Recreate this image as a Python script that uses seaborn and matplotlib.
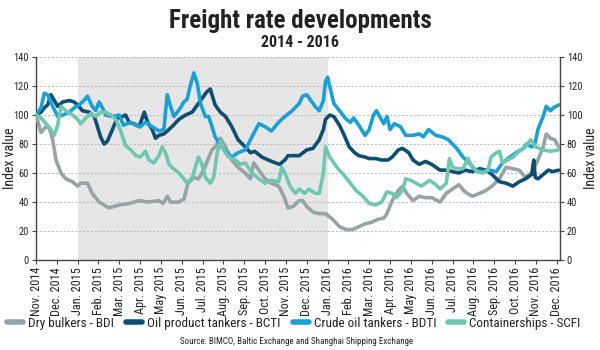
import numpy as np
import pandas as pd
import matplotlib
matplotlib.use("Agg")
import matplotlib.pyplot as plt
import seaborn as sns
from matplotlib import font_manager

# ---------------- data ----------------
month_labels = ["Nov. 2014", "Dec. 2014", "Jan. 2015", "Feb. 2015", "Mar. 2015", "Apr. 2015",
                "May 2015", "Jun. 2015", "Jul. 2015", "Aug. 2015", "Sep. 2015", "Oct. 2015",
                "Nov. 2015", "Dec. 2015", "Jan. 2016", "Feb. 2016", "Mar. 2016", "Apr. 2016",
                "May 2016", "Jun. 2016", "Jul. 2016", "Aug. 2016", "Sep. 2016", "Oct. 2016",
                "Nov. 2016", "Dec. 2016"]

series_names = ["Dry bulkers - BDI", "Oil product tankers - BCTI",
                "Crude oil tankers - BDTI", "Containerships - SCFI"]

bdi_t = [0, 0.24, 0.48, 0.64, 0.8, 0.96, 1.2, 1.44, 1.75, 2.0, 2.15, 2.47, 2.7,
         3.03, 3.5, 4.0, 4.47, 4.95, 5.4, 5.9, 6.1, 6.3, 6.46, 6.86, 7.1, 7.3, 7.6, 7.8,
         8.05, 8.3, 8.45, 8.6, 8.85, 9.1, 9.4, 9.7, 10.05, 10.3, 10.45, 10.7, 11.0, 11.3, 11.65, 11.9,
         12.1, 12.35, 12.64, 12.8, 13.0, 13.3, 13.6, 13.9, 14.25, 14.57, 14.9, 15.2, 15.5, 15.8,
         16.1, 16.4, 16.7, 16.85, 17.1, 17.4, 17.6, 17.8, 18.1, 18.4, 18.7, 19.0, 19.4, 19.7,
         20.0, 20.3, 20.6, 20.95, 21.3, 21.6, 21.9, 22.25, 22.57, 22.9, 23.2, 23.5, 23.8,
         24.1, 24.35, 24.5, 24.7, 24.9, 25.1]
bdi_v = [100, 88, 92, 91, 83, 69, 60, 56, 54, 51, 53, 53, 46,
         40, 36, 38, 39, 41, 40, 41, 39, 44, 40, 40, 42, 53, 57, 56,
         62, 71, 76, 78, 84, 78, 69, 64, 60, 56, 67, 62, 56, 53, 51, 44,
         36, 37, 41, 41, 37, 33, 32, 32, 28, 23, 21, 21, 23, 25,
         26, 28, 29, 32, 41, 48, 51, 46, 41, 44, 43, 43, 40, 46,
         49, 52, 47, 44, 46, 48, 51, 56, 64, 63, 62, 57, 60,
         69, 78, 87, 84, 83, 78]

bcti_t = [0, 0.24, 0.4, 0.56, 0.72, 0.88, 1.04, 1.28, 1.6, 1.83, 2.0, 2.23, 2.55, 2.8, 2.95,
          3.1, 3.27, 3.43, 3.67, 3.9, 4.15, 4.3, 4.47, 4.7, 4.95, 5.2, 5.36, 5.58, 5.74, 5.9,
          6.14, 6.38, 6.6, 6.86, 7.18, 7.5, 7.8, 8.05, 8.2, 8.37, 8.45, 8.6, 8.85,
          9.1, 9.4, 9.7, 10.05, 10.3, 10.5, 10.85, 11.15, 11.5, 11.7, 11.95,
          12.1, 12.35, 12.64, 13.0, 13.3, 13.6, 13.8, 13.9, 14.1, 14.3, 14.57, 14.8, 15.04,
          15.3, 15.5, 15.8, 16.0, 16.3, 16.6, 16.9, 17.1, 17.4, 17.6, 17.9,
          18.1, 18.4, 18.7, 19.0, 19.4, 19.7, 20.0, 20.3, 20.6, 20.95, 21.3, 21.6, 21.9,
          22.25, 22.57, 22.9, 23.2, 23.5, 23.8, 23.9, 23.97, 24.1, 24.35, 24.6, 24.8, 25.1]
bcti_v = [100, 102, 105, 107, 114, 110, 106, 109, 110, 109, 107, 103, 102, 99, 92,
          85, 80, 82, 90, 98, 99, 100, 95, 94, 92, 102, 95, 90, 84, 86,
          87, 90, 93, 97, 100, 102, 108, 113, 116, 118, 114, 107, 102,
          99, 92, 83, 78, 74, 75, 71, 69, 67, 66, 69,
          72, 72, 72, 76, 77, 83, 90, 97, 100, 99, 93, 86, 78,
          74, 72, 71, 70, 70, 69, 69, 71, 76, 77, 74,
          69, 66, 68, 66, 62, 62, 61, 60, 62, 61, 63, 62, 59,
          54, 53, 51, 54, 56, 59, 69, 57, 56, 59, 62, 61, 62]

bdti_t = [0, 0.24, 0.4, 0.56, 0.8, 1.04, 1.28, 1.6, 1.83, 2.07, 2.3, 2.47, 2.7, 2.87,
          3.03, 3.19, 3.35, 3.67, 4.0, 4.2, 4.55, 4.8, 5.0, 5.26, 5.58, 5.9, 6.14, 6.3, 6.46,
          6.62, 6.78, 6.94, 7.1, 7.26, 7.4, 7.58, 7.74, 7.9, 8.13, 8.29, 8.45, 8.6, 8.85,
          9.1, 9.4, 9.7, 10.05, 10.37, 10.7, 11.0, 11.3, 11.65, 11.95, 12.3, 12.64, 12.8,
          13.0, 13.2, 13.4, 13.6, 13.8, 13.9, 14.0, 14.1, 14.3, 14.57, 14.9, 15.1, 15.25,
          15.5, 15.8, 16.0, 16.2, 16.35, 16.5, 16.7, 16.85, 17.0, 17.2, 17.5, 17.75,
          18.1, 18.4, 18.6, 18.85, 19.2, 19.5, 19.8, 20.2, 20.5, 20.8, 21.1, 21.45, 21.8,
          22.1, 22.4, 22.75, 23.05, 23.4, 23.55, 23.8, 23.95, 24.1, 24.35, 24.5, 24.7, 24.85, 25.1]
bdti_v = [100, 105, 115, 114, 106, 99, 100, 102, 105, 107, 110, 113, 106, 103,
          109, 105, 100, 99, 100, 93, 95, 93, 92, 95, 92, 89, 90, 114, 106,
          99, 102, 105, 109, 111, 120, 129, 122, 108, 99, 99, 92, 85, 79,
          75, 71, 74, 76, 85, 94, 92, 89, 95, 99, 103, 108, 113,
          114, 110, 106, 103, 110, 123, 126, 120, 108, 103, 97, 95, 98,
          93, 86, 90, 100, 103, 99, 94, 99, 90, 94, 92, 86,
          86, 87, 85, 90, 86, 85, 83, 77, 71, 67, 62, 61, 62,
          61, 67, 71, 74, 77, 80, 78, 80, 90, 99, 106, 103, 105, 107]

scfi_t = [0, 0.24, 0.48, 0.72, 0.88, 1.04, 1.2, 1.44, 1.68, 2.0, 2.15, 2.4, 2.63, 2.87,
          3.1, 3.35, 3.6, 3.83, 4.07, 4.3, 4.55, 4.8, 5.0, 5.26, 5.42, 5.66, 5.9, 6.06, 6.22,
          6.38, 6.6, 6.86, 7.1, 7.26, 7.5, 7.65, 7.8, 7.95, 8.13, 8.37, 8.53, 8.7, 8.85, 9.0,
          9.25, 9.57, 9.8, 10.05, 10.37, 10.7, 11.0, 11.3, 11.65, 11.8, 11.95, 12.2, 12.45,
          12.64, 12.9, 13.1, 13.4, 13.6, 13.8, 13.9, 14.1, 14.3, 14.5, 14.7, 15.04, 15.36,
          15.7, 16.0, 16.3, 16.6, 16.85, 17.1, 17.3, 17.6, 17.75, 18.0, 18.25, 18.5, 18.7,
          18.9, 19.2, 19.4, 19.7, 19.85, 20.0, 20.25, 20.5, 20.74, 20.95, 21.2, 21.45, 21.7,
          21.85, 22.1, 22.25, 22.4, 22.65, 22.9, 23.2, 23.5, 23.75, 24.0, 24.35, 24.7, 25.1]
scfi_v = [100, 98, 94, 90, 86, 93, 106, 103, 101, 97, 94, 98, 101, 99,
          102, 102, 100, 97, 89, 79, 76, 72, 71, 75, 69, 67, 72, 78, 74,
          66, 63, 60, 56, 53, 57, 64, 71, 67, 57, 53, 57, 74, 82, 76,
          71, 69, 66, 67, 60, 56, 53, 55, 54, 64, 60, 51, 46,
          49, 46, 49, 46, 46, 60, 78, 71, 67, 63, 60, 54, 48,
          44, 39, 38, 40, 47, 46, 43, 48, 56, 55, 53, 51, 53,
          55, 52, 49, 53, 70, 64, 63, 63, 70, 64, 61, 60, 62,
          71, 74, 75, 67, 69, 71, 75, 78, 83, 78, 76, 75, 76]

y_ticks = [0, 20, 40, 60, 80, 100, 120, 140]
shade_span = [2, 14]   # Jan. 2015 -> Jan. 2016

colors = ["#98a3a5", "#0d4f70", "#1b9fd5", "#70c7b1"]

# ---------------- fonts ----------------
sns.set_theme(style="white")
fl = font_manager.fontManager.ttflist


def weights(name):
    out = set()
    for f in fl:
        if f.name == name:
            w = f.weight
            if isinstance(w, str):
                w = {"light": 300, "normal": 400, "regular": 400, "book": 400, "medium": 500,
                     "semibold": 600, "bold": 700, "heavy": 800, "black": 900}.get(w, 400)
            out.add(int(w))
    return out


narrow = sorted({f.name for f in fl if ("Condensed" in f.name or "Narrow" in f.name)})
pref = ["Roboto Condensed", "Liberation Sans Narrow", "Open Sans Condensed",
        "Noto Sans Condensed", "DejaVu Sans Condensed"]
ordered = [n for n in pref if n in narrow] + [n for n in narrow if n not in pref]
body = None
for n in ordered:
    if 400 in weights(n):
        body = n
        break
if body is None and ordered:
    body = ordered[0]
title_font = None
for n in ordered:
    if any(w >= 600 for w in weights(n)):
        title_font = n
        break

if body:
    plt.rcParams["font.family"] = [body, "DejaVu Sans"]
    k = 1.0
else:
    plt.rcParams["font.family"] = ["Roboto", "DejaVu Sans"]
    k = 0.86
tfam = [title_font, "DejaVu Sans"] if title_font else plt.rcParams["font.family"]

df = pd.concat([
    pd.DataFrame({"t": bdi_t, "v": bdi_v, "s": series_names[0]}),
    pd.DataFrame({"t": bcti_t, "v": bcti_v, "s": series_names[1]}),
    pd.DataFrame({"t": bdti_t, "v": bdti_v, "s": series_names[2]}),
    pd.DataFrame({"t": scfi_t, "v": scfi_v, "s": series_names[3]}),
], ignore_index=True)

fig = plt.figure(figsize=(6, 3.5), dpi=100)
ax = fig.add_axes([0.06, 0.257, 0.873, 0.58])

ax.axvspan(shade_span[0], shade_span[1], color="#e6e6e6", zorder=0, lw=0)
for yv in y_ticks[1:]:
    ax.axhline(yv, color="#b8b8b8", lw=0.7, ls=(0, (2, 2)), zorder=1)

sns.lineplot(data=df, x="t", y="v", hue="s", palette=colors, hue_order=series_names,
             estimator=None, sort=False, lw=2.6, ax=ax, legend=False, zorder=3)

ax.set_xlim(0, 25.15)
ax.set_ylim(0, 140)
ax.set_xticks(range(len(month_labels)))
ax.set_xticklabels(month_labels, rotation=90, fontsize=8.8 * k, color="#222222")
ax.set_yticks(y_ticks)
ax.set_yticklabels([str(v) for v in y_ticks], fontsize=7.5 * k, color="#222222")
ax.set_xlabel("")
ax.set_ylabel("Index value", fontsize=10 * k, color="#222222")
ax.yaxis.set_label_coords(-0.037, 0.5)
for side in ["left", "right", "bottom"]:
    ax.spines[side].set_visible(True)
    ax.spines[side].set_color("#444444")
    ax.spines[side].set_linewidth(1.0)
ax.spines["top"].set_visible(False)
ax.tick_params(axis="both", which="both", direction="out", length=3, width=0.8,
               color="#444444", pad=2, bottom=True, left=True)
ax.grid(False)

ax2 = ax.twinx()
ax2.set_ylim(0, 140)
ax2.set_yticks(y_ticks)
ax2.set_yticklabels([str(v) for v in y_ticks], fontsize=7.5 * k, color="#222222")
ax2.set_ylabel("Index value", fontsize=10 * k, color="#222222")
ax2.yaxis.set_label_coords(1.046, 0.5)
for side in ["left", "right", "bottom", "top"]:
    ax2.spines[side].set_visible(False)
ax2.tick_params(axis="y", direction="out", length=3, width=0.8, color="#444444", pad=2, right=True)
ax2.grid(False)

fig.text(0.5, 0.94, "Freight rate developments", ha="center", va="center",
         fontsize=18 * k, fontweight="bold", color="#222222", family=tfam)
fig.text(0.5, 0.878, "2014 - 2016", ha="center", va="center",
         fontsize=11.5 * k, fontweight="bold", color="#222222", family=tfam)

handles = [plt.Line2D([0], [0], color=c, lw=4) for c in colors]
fig.legend(handles, series_names, loc="center", bbox_to_anchor=(0.49, 0.077), ncol=4,
           frameon=False, fontsize=9.5 * k, handlelength=1.2, handletextpad=0.4,
           columnspacing=0.9, labelcolor="#222222")
fig.text(0.495, 0.025, "Source: BIMCO, Baltic Exchange and Shanghai Shipping Exchange",
         ha="center", va="center", fontsize=6.5 * k, color="#222222")

fig.savefig("out.png", dpi=100)
